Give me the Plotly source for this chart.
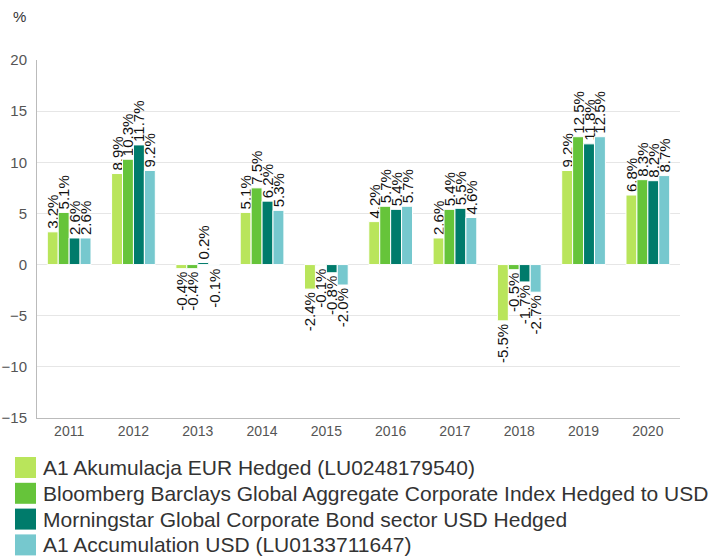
import plotly.graph_objects as go

years = ["2011", "2012", "2013", "2014", "2015", "2016", "2017", "2018", "2019", "2020"]

series_names = [
    "A1 Akumulacja EUR Hedged (LU0248179540)",
    "Bloomberg Barclays Global Aggregate Corporate Index Hedged to USD",
    "Morningstar Global Corporate Bond sector USD Hedged",
    "A1 Accumulation USD (LU0133711647)",
]

a1_eur = [3.2, 8.9, -0.4, 5.1, -2.4, 4.2, 2.6, -5.5, 9.2, 6.8]
bbg_index = [5.1, 10.3, -0.4, 7.5, -0.1, 5.7, 5.4, -0.5, 12.5, 8.3]
ms_sector = [2.6, 11.7, 0.2, 6.2, -0.8, 5.4, 5.5, -1.7, 11.8, 8.2]
a1_usd = [2.6, 9.2, -0.1, 5.3, -2.0, 5.7, 4.6, -2.7, 12.5, 8.7]

colors = ["#b9e55b", "#66c43a", "#007b6b", "#76c8ce"]

W, H = 718, 559
ML, MR, MT, MB = 37, 38, 60, 141
PW, PH = W - ML - MR, H - MT - MB
FONT = "Arial, Liberation Sans, sans-serif"


def px_x(px):
    """Pixel column -> paper x."""
    return (px - ML) / PW


def px_y(py):
    """Pixel row (from top) -> paper y."""
    return (H - MB - py) / PH


fig = go.Figure()
for name, vals, col in zip(series_names, [a1_eur, bbg_index, ms_sector, a1_usd], colors):
    fig.add_trace(go.Bar(
        x=years, y=vals, name=name,
        marker=dict(color=col, line=dict(color="white", width=1)),
        text=[f"{v:.1f}%" for v in vals],
        textposition="outside", textangle=-90,
        textfont=dict(family=FONT, size=15, color="#111"),
        cliponaxis=False,
    ))

# Legend drawn as square swatches with labels beneath the plot
shapes, annotations = [], []
row_top, row_pitch, sw = 457, 25.8, 21
for i, (name, col) in enumerate(zip(series_names, colors)):
    top = row_top + i * row_pitch
    shapes.append(dict(
        type="rect", xref="paper", yref="paper",
        x0=px_x(15), x1=px_x(15 + sw), y0=px_y(top + sw), y1=px_y(top),
        fillcolor=col, line=dict(width=0),
    ))
    annotations.append(dict(
        text=name, xref="paper", yref="paper", showarrow=False,
        x=px_x(41), y=px_y(top + sw / 2), xanchor="left", yanchor="middle",
        font=dict(family=FONT, size=21, color="#333"),
    ))

annotations.append(dict(
    text="%", xref="paper", yref="paper", showarrow=False,
    x=px_x(11), y=px_y(16), xanchor="left", yanchor="middle",
    font=dict(family=FONT, size=15, color="#333"),
))

fig.update_layout(
    width=W, height=H,
    margin=dict(l=ML, r=MR, t=MT, b=MB, autoexpand=False),
    paper_bgcolor="white", plot_bgcolor="white",
    barmode="group", bargap=0.32, bargroupgap=0.0,
    font=dict(family=FONT, color="#444"),
    uniformtext=dict(minsize=15, mode="show"),
    showlegend=False,
    shapes=shapes,
    annotations=annotations,
)

fig.update_yaxes(
    range=[-15, 20], dtick=5, showgrid=True, gridcolor="#e6e6e6",
    zeroline=True, zerolinecolor="#e6e6e6", zerolinewidth=1,
    showline=True, linecolor="#bbbbbb", linewidth=1,
    tickfont=dict(family=FONT, size=15, color="#555"), ticks="", ticklabelstandoff=6,
)
fig.update_xaxes(
    showline=True, linecolor="#bbbbbb", linewidth=1,
    tickfont=dict(family=FONT, size=14, color="#555"), ticks="",
)

fig.write_html("out.html")
